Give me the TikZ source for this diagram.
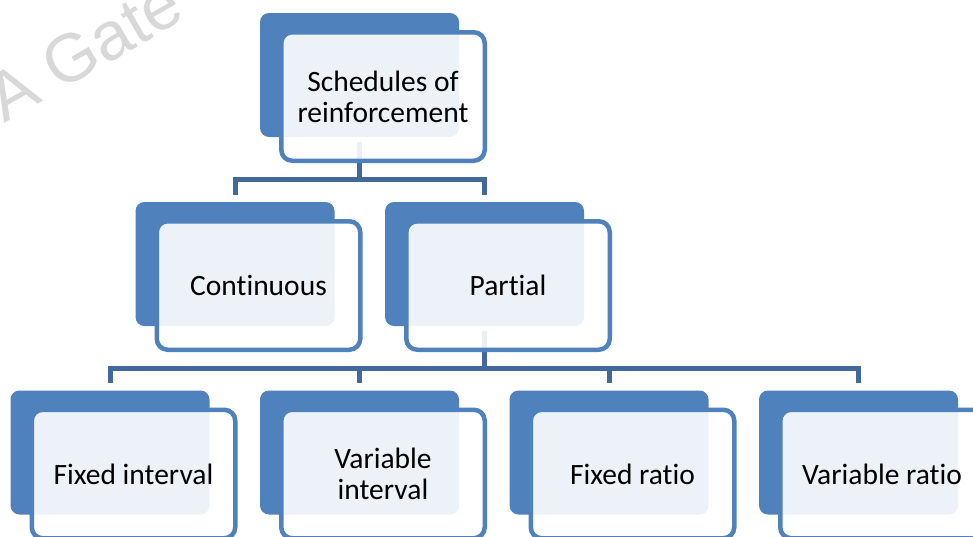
\documentclass[tikz,border=0pt]{standalone}
\usepackage{fontspec}
\setmainfont{Carlito}[Ligatures=NoCommon]
\newfontfamily\markfont{Liberation Sans}
\usetikzlibrary{calc}
\definecolor{accent}{HTML}{4F81BD}
\definecolor{linkblue}{HTML}{41699B}
\definecolor{markgray}{HTML}{D8D8D8}
\tikzset{
  backbox/.style={rectangle, rounded corners=9pt, fill=accent,
    minimum width=199pt, minimum height=124pt, inner sep=0pt},
  frontbox/.style={rectangle, rounded corners=11pt, draw=accent, line width=4.5pt,
    fill=white, fill opacity=0.9, text opacity=1, draw opacity=1,
    minimum width=203.5pt, minimum height=128.5pt, inner sep=0pt,
    align=center, font=\fontsize{29.5}{31}\selectfont},
  conn/.style={draw=linkblue, line width=5pt, line join=miter},
}
\begin{document}
\begin{tikzpicture}[x=1pt, y=-1pt]
\useasboundingbox (0,0) rectangle (973,536);
\fill[white] (0,0) rectangle (973,536);

% faint watermark in the corner
\node[markgray, font=\markfont\fontsize{68}{68}\selectfont, rotate=30,
      anchor=base west, inner sep=0pt] (mark) at (4,124) {A Gate};

% solid back plates
\node[backbox] (top-b)  at (359.5,75)  {};
\node[backbox] (cont-b) at (235,264)   {};
\node[backbox] (part-b) at (484.5,264) {};
\node[backbox] (fi-b)   at (110,452.5) {};
\node[backbox] (vi-b)   at (359.5,452.5) {};
\node[backbox] (fr-b)   at (609,452.5) {};
\node[backbox] (vr-b)   at (858.5,452.5) {};

% connectors, drawn before the front cards
\draw[conn] ($(top-b.south)+(0,5)$) -- ($(top-b.south)+(0,43)$);
\draw[conn] ($(cont-b.north)+(0,-7)$) -- ($(cont-b.north)+(0,-22)$)
            -- ($(part-b.north)+(0,-22)$) -- ($(part-b.north)+(0,-7)$);
\draw[conn] ($(part-b.south)+(0,5)$) -- ($(part-b.south)+(0,43)$);
\draw[conn] ($(fi-b.north)+(0,-7)$) -- ($(fi-b.north)+(0,-22)$)
            -- ($(vr-b.north)+(0,-22)$) -- ($(vr-b.north)+(0,-7)$);
\draw[conn] ($(vi-b.north)+(0,-7)$) -- ($(vi-b.north)+(0,-22)$);
\draw[conn] ($(fr-b.north)+(0,-7)$) -- ($(fr-b.north)+(0,-22)$);

% front cards with the labels
\node[frontbox] (top)  at ($(top-b)+(23.5,21.5)$)  {Schedules of\\reinforcement};
\node[frontbox] (cont) at ($(cont-b)+(23.5,21.5)$) {Continuous};
\node[frontbox] (part) at ($(part-b)+(23.5,21.5)$) {Partial};
\node[frontbox] (fi)   at ($(fi-b)+(23.5,21.5)$)   {Fixed interval};
\node[frontbox] (vi)   at ($(vi-b)+(23.5,21.5)$)   {Variable\\interval};
\node[frontbox] (fr)   at ($(fr-b)+(23.5,21.5)$)   {Fixed ratio};
\node[frontbox] (vr)   at ($(vr-b)+(23.5,21.5)$)   {Variable ratio};
\end{tikzpicture}
\end{document}
